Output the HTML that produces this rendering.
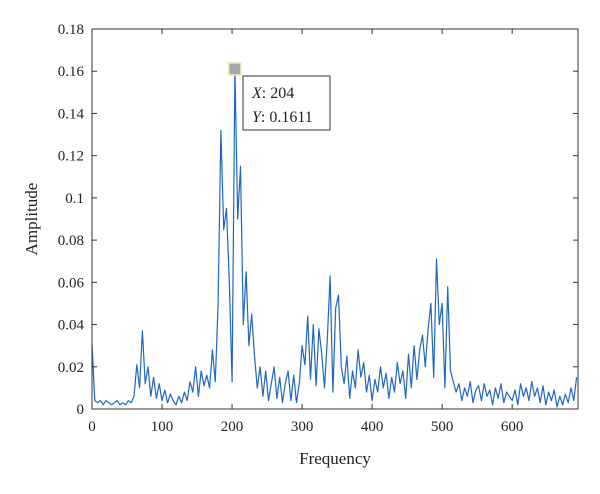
<!DOCTYPE html>
<html><head><meta charset="utf-8"><style>
body{margin:0;background:#fff;}
svg text{font-family:"Liberation Serif",serif;fill:#222;}
</style></head><body>
<svg id="c" width="600" height="489" xmlns="http://www.w3.org/2000/svg"></svg>
<script>
const xTicks=[0,100,200,300,400,500,600];
const yTicks=[0,0.02,0.04,0.06,0.08,0.1,0.12,0.14,0.16,0.18];
const yTickLabels=["0","0.02","0.04","0.06","0.08","0.1","0.12","0.14","0.16","0.18"];
const freqStep=4;
const amplitude=[
0.031,0.004,0.003,0.004,0.002,0.004,0.003,0.002,0.003,0.004,0.002,0.003,0.002,0.004,0.003,
0.006,0.021,0.01,0.037,0.012,0.02,0.006,0.015,0.005,0.012,
0.004,0.009,0.003,0.007,0.004,0.002,0.006,0.003,0.008,0.004,
0.013,0.008,0.02,0.006,0.018,0.011,0.016,0.01,0.028,0.013,
0.05,0.132,0.085,0.095,0.06,0.013,0.161,0.09,0.115,0.04,0.065,0.03,0.045,
0.025,0.01,0.02,0.006,0.018,0.004,0.012,0.02,0.005,0.015,0.003,0.012,0.018,0.004,0.016,0.003,0.012,
0.03,0.021,0.044,0.014,0.04,0.011,0.038,0.026,0.01,0.033,0.063,0.008,0.048,0.054,0.02,
0.012,0.025,0.005,0.018,0.01,0.028,0.015,0.022,0.008,0.016,0.004,0.014,0.008,0.02,0.01,0.017,0.005,0.015,0.008,0.022,0.012,0.018,0.005,0.026,0.01,0.03,0.014,0.028,
0.035,0.02,0.038,0.05,0.015,0.071,0.04,0.05,0.01,0.058,0.018,0.013,0.008,
0.012,0.004,0.01,0.006,0.013,0.003,0.009,0.011,0.004,0.012,0.006,0.009,0.002,0.01,0.005,0.012,0.003,0.008,0.006,0.004,0.009,0.002,0.012,0.006,0.01,0.004,0.013,0.006,0.01,0.003,0.011,0.002,0.008,0.004,0.009,0.001,0.006,0.002,0.007,0.003,0.01,0.004,0.015];
const markerX=204, markerY=0.1611;

const L=92,R=578,T=29,B=409,XMAX=694,YMAX=0.18;
const sx=v=>L+(v/XMAX)*(R-L);
const sy=v=>B-(v/YMAX)*(B-T);
const svg=document.getElementById('c');
const NS='http://www.w3.org/2000/svg';
function mk(tag,attrs,parent){const e=document.createElementNS(NS,tag);for(const k in attrs)e.setAttribute(k,attrs[k]);(parent||svg).appendChild(e);return e;}

// series
let d='';
amplitude.forEach((v,i)=>{d+=(i?'L':'M')+sx(i*freqStep).toFixed(1)+','+sy(v).toFixed(1);});
const line=mk('path',{d:d,fill:'none',stroke:'#1f66c0','stroke-width':1.2,'stroke-linejoin':'round'});



// axes box
const box=mk('rect',{x:L,y:T,width:R-L,height:B-T,fill:'none',stroke:'#333','stroke-width':1});



xTicks.forEach(t=>{
  const x=sx(t);
  mk('line',{x1:x,y1:B,x2:x,y2:B-5,stroke:'#333'});
  mk('line',{x1:x,y1:T,x2:x,y2:T+5,stroke:'#333'});
  const tx=mk('text',{x:x,y:B+22,'text-anchor':'middle','font-size':15});
  tx.textContent=t;
  
  
});
yTicks.forEach((t,i)=>{
  const y=sy(t);
  mk('line',{x1:L,y1:y,x2:L+5,y2:y,stroke:'#333'});
  mk('line',{x1:R,y1:y,x2:R-5,y2:y,stroke:'#333'});
  const tx=mk('text',{x:L-8,y:y+5,'text-anchor':'end','font-size':15});
  tx.textContent=yTickLabels[i];
  
  
});
const xt=mk('text',{x:(L+R)/2,y:464,'text-anchor':'middle','font-size':17});
xt.textContent='Frequency';


const yt=mk('text',{x:0,y:0,'text-anchor':'middle','font-size':17,transform:'translate(37,'+((T+B)/2)+') rotate(-90)'});
yt.textContent='Amplitude';



// datatip
const mx=sx(markerX),my=sy(markerY);
const m=mk('rect',{x:mx-6,y:my-6,width:12,height:12,fill:'#a8a8a8',stroke:'#e8e8b0','stroke-width':1.5});


const g=mk('g',{});


mk('rect',{x:243,y:76,width:87,height:54,fill:'#fff',stroke:'#333'},g);
const t1=mk('text',{x:252,y:98,'font-size':16},g);
t1.innerHTML='<tspan font-style="italic">X</tspan>: '+markerX;
const t2=mk('text',{x:252,y:122,'font-size':16},g);
t2.innerHTML='<tspan font-style="italic">Y</tspan>: '+markerY;
</script>
</body></html>
